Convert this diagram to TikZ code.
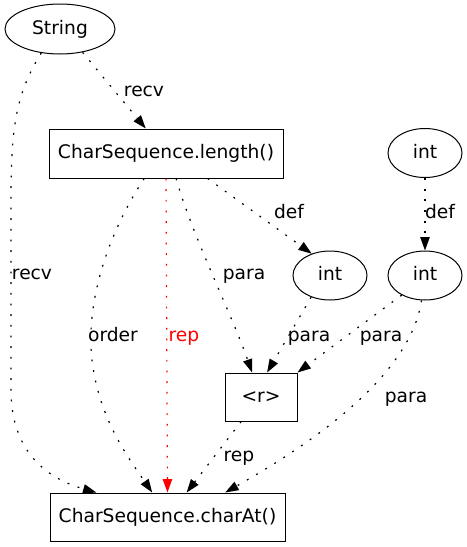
\documentclass[tikz,border=0pt]{standalone}
\usepackage{fontspec}
\setmainfont{DejaVu Sans}
\usetikzlibrary{arrows.meta,shapes.geometric}
\begin{document}
\begin{tikzpicture}[x=0.75pt,y=-0.75pt,
  every node/.style={font=\fontsize{14pt}{16pt}\selectfont, text height=10.5pt, text depth=3pt, inner sep=0pt},
  ell/.style={draw, ellipse, line width=0.75pt},
  boxn/.style={draw, rectangle, line width=0.75pt},
  edge/.style={line width=0.9pt, dash pattern=on 1.4pt off 6.6pt, -{Triangle[length=10pt,width=7pt]}},
  lbl/.style={}]
\useasboundingbox (0,0) rectangle (467,547);
% nodes
\node[ell, minimum width=82.5pt, minimum height=37.5pt] (str) at (60,29) {String};
\node[boxn, minimum width=175.5pt, minimum height=36.75pt] (len) at (166,153.5) {CharSequence.length()};
\node[ell, minimum width=55.5pt, minimum height=36.75pt] (itop) at (425,153) {int};
\node[ell, minimum width=55.5pt, minimum height=36.75pt] (imid) at (330,275.5) {int};
\node[ell, minimum width=55.5pt, minimum height=36.75pt] (iright) at (425,275.5) {int};
\node[boxn, minimum width=54pt, minimum height=36pt] (r) at (261,397) {<r>};
\node[boxn, minimum width=176.25pt, minimum height=36pt] (cat) at (167.5,517) {CharSequence.charAt()};
% edges
\draw[edge] (str.314) -- (len.129.2);
\draw[edge] (str.232) .. controls (15,95) and (11,130) .. (11,200) -- (11,390) .. controls (11,450) and (45,478) .. (cat.161.7);
\draw[edge] (len.229.4) .. controls (110,230) and (85,300) .. (92,360) .. controls (99,420) and (130,460) .. (cat.122.9);
\draw[edge, red] (len.south) -- (cat.north);
\draw[edge] (len.292.2) .. controls (192,235) and (232,315) .. (r.110.6);
\draw[edge] (len.329.7) -- (imid.130.4);
\draw[edge] (itop.south) -- (iright.north);
\draw[edge] (imid.229.6) -- (r.76);
\draw[edge] (iright.220.7) -- (r.north east);
\draw[edge] (iright.262) .. controls (410,380) and (300,450) .. (cat.23.8);
\draw[edge] (r.231.6) -- (cat.52.4);
% labels
\node[lbl] (l1) at (144,91) {recv};
\node[lbl] (l2) at (32,274) {recv};
\node[lbl] (l3) at (113,336) {order};
\node[lbl, text=red] (l4) at (184,336) {rep};
\node[lbl] (l5) at (244,274) {para};
\node[lbl] (l6) at (289,213) {def};
\node[lbl] (l7) at (440,213) {def};
\node[lbl] (l8) at (309,336) {para};
\node[lbl] (l9) at (381,336) {para};
\node[lbl] (l10) at (406,397) {para};
\node[lbl] (l11) at (239,456) {rep};
\end{tikzpicture}
\end{document}
